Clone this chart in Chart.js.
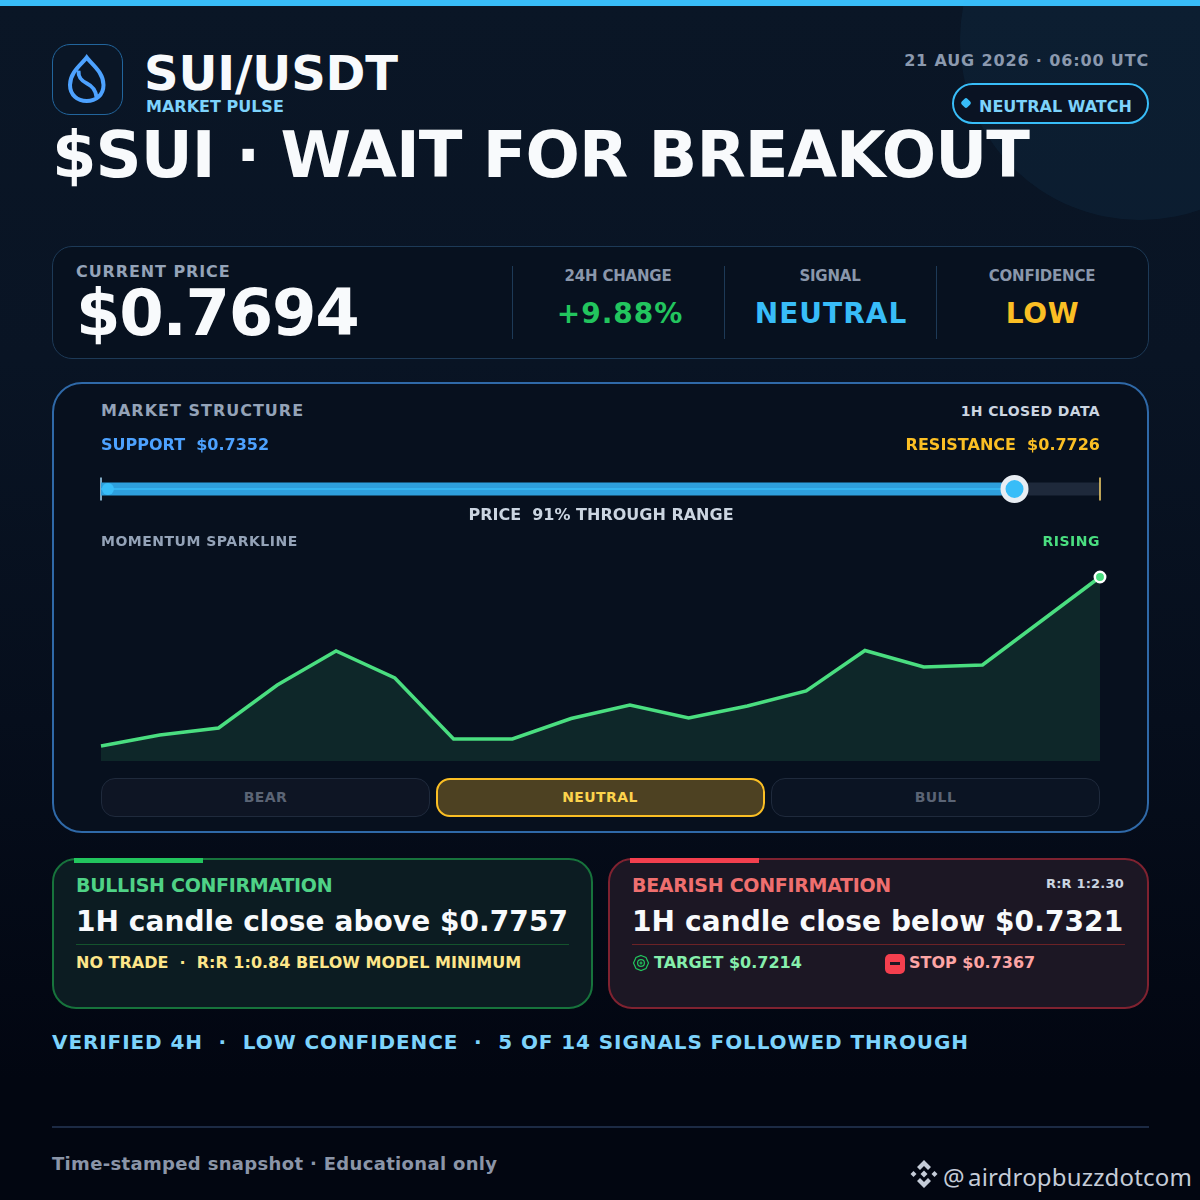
<!DOCTYPE html>
<html>
<head>
<meta charset="utf-8">
<script src="https://cdn.jsdelivr.net/npm/chart.js"></script>
<style>
  html, body { margin: 0; padding: 0; background: #020611; }
  #page {
    position: relative; width: 1200px; height: 1200px; overflow: hidden;
    background: linear-gradient(180deg, #0a1626 0%, #091424 30%, #060e1c 60%, #020611 90%, #020611 100%);
    font-family: "DejaVu Sans", sans-serif; font-weight: bold;
  }
  .box { position: absolute; box-sizing: border-box; }
  .t { position: absolute; white-space: pre; line-height: normal; }
  canvas { position: absolute; }
</style>
</head>
<body>
<div id="page">
  <div class="box" style="left:0;top:0;width:1200px;height:6px;background:#38bdf8"></div>
  <div class="box" style="left:960px;top:-140px;width:360px;height:360px;border-radius:50%;background:rgba(56,189,248,.055)"></div>

  <div class="box" style="left:52px;top:44px;width:71px;height:71px;border-radius:18px;border:1px solid #22659c;background:#0a1626"></div>
  <svg class="box" style="left:0;top:0" width="200" height="130" fill="none" stroke="#4da2ff" stroke-width="4">
    <path d="M86.7 57.5 C82 64 70 72 70 85 C70 95 77.5 101 86.7 101 C96 101 103.5 95 103.5 85 C103.5 72 91.5 64 86.7 57.5 Z"/>
    <path d="M78.5 70.5 C78 78 82 81 87 83.5 C92 86 95.5 89 96.5 97"/>
  </svg>

  <div class="box" style="left:952px;top:83px;width:197px;height:41px;border-radius:21px;border:2px solid #38bdf8;background:#0a1323"></div>
  <div class="box" style="left:962px;top:99px;width:8px;height:8px;background:#38bdf8;transform:rotate(45deg);border-radius:2px"></div>

  <div class="box" style="left:52px;top:246px;width:1097px;height:113px;border-radius:20px;border:1px solid #1d3a57;background:#07111f"></div>
  <div class="box" style="left:512px;top:266px;width:1px;height:73px;background:#1d3a57"></div>
  <div class="box" style="left:724px;top:266px;width:1px;height:73px;background:#1d3a57"></div>
  <div class="box" style="left:936px;top:266px;width:1px;height:73px;background:#1d3a57"></div>

  <div class="box" style="left:52px;top:382px;width:1097px;height:451px;border-radius:30px;border:2px solid #2f69a8;background:#07101e"></div>

  <div class="box" style="left:101px;top:778px;width:329px;height:39px;border-radius:14px;border:1px solid #1f2a3c;background:#0e1524"></div>
  <div class="box" style="left:436px;top:778px;width:329px;height:39px;border-radius:14px;border:2px solid #fbbf24;background:#4d4122"></div>
  <div class="box" style="left:771px;top:778px;width:329px;height:39px;border-radius:14px;border:1px solid #1f2a3c;background:#0b1423"></div>

  <div class="box" style="left:52px;top:858px;width:541px;height:151px;border-radius:24px;border:2px solid #17733c;background:#0c1c22"></div>
  <div class="box" style="left:74px;top:858px;width:129px;height:5px;background:#22c55e"></div>
  <div class="box" style="left:76px;top:944px;width:493px;height:1px;background:#14532d"></div>

  <div class="box" style="left:608px;top:858px;width:541px;height:151px;border-radius:24px;border:2px solid #7f2230;background:#1c1724"></div>
  <div class="box" style="left:630px;top:858px;width:129px;height:5px;background:#f43f4e"></div>
  <div class="box" style="left:632px;top:944px;width:493px;height:1px;background:#6b2226"></div>

  <svg class="box" style="left:629.5px;top:952px" width="22" height="22" fill="none" stroke="#22c55e" stroke-width="1.2">
    <polygon points="11,3.5 16,5.5 18.5,11 16,16.5 11,18.5 6,16.5 3.5,11 6,5.5"/>
    <circle cx="11" cy="11" r="3.4"/>
    <path d="M11 9.5v3M9.5 11h3"/>
  </svg>
  <div class="box" style="left:885px;top:954px;width:20px;height:20px;border-radius:5px;background:#f43f4e"></div>
  <div class="box" style="left:890px;top:962px;width:10px;height:3px;background:#1c1724"></div>

  <div class="box" style="left:52px;top:1126px;width:1097px;height:2px;background:#1c2a44"></div>

  <svg class="box" style="left:909px;top:1159px" width="30" height="30" fill="#c5ccd8">
    <polygon points="15,1 22,8 19,11 15,7 11,11 8,8"/>
    <polygon points="15,29 22,22 19,19 15,23 11,19 8,22"/>
    <polygon points="15,11.5 18.5,15 15,18.5 11.5,15"/>
    <polygon points="4.5,12 7.5,15 4.5,18 1.5,15"/>
    <polygon points="25.5,12 28.5,15 25.5,18 22.5,15"/>
  </svg>

  <canvas id="rangeChart" style="left:81px;top:449px"></canvas>
  <canvas id="sparkChart" style="left:81px;top:541px"></canvas>
</div>

<script>
const pair = "SUI/USDT";
const headline = "$SUI · WAIT FOR BREAKOUT";
const stamp = "21 AUG 2026 · 06:00 UTC";

const support = 0.7352;
const resistance = 0.7726;
const price = 0.7694;
const rangeStartDot = 0.73546;

const statHeads = ["24H CHANGE", "SIGNAL", "CONFIDENCE"];
const statValues = ["+9.88%", "NEUTRAL", "LOW"];
const bias = ["BEAR", "NEUTRAL", "BULL"];

const sparkLabels = ["1","2","3","4","5","6","7","8","9","10","11","12","13","14","15","16","17","18"];
const sparkValues = [7.5, 13, 16.5, 38, 55, 41.5, 11, 11, 21.25, 28, 21.5, 27.5, 35, 55.25, 47, 48, 70, 92];

const page = document.getElementById("page");

// baseline-placed text; DejaVu ascent is .928em
function label(str, x, base, size, color, opts = {}) {
  const el = document.createElement("div");
  el.className = "t";
  el.textContent = str;
  el.style.top = (base - 0.928 * size) + "px";
  el.style.fontSize = size + "px";
  el.style.color = color;
  if (opts.ls) el.style.letterSpacing = opts.ls + "px";
  if (opts.font) { el.style.fontFamily = opts.font; el.style.fontWeight = opts.weight || "normal"; }
  if (opts.align === "right") el.style.right = (1200 - x) + "px";
  else if (opts.align === "center") { el.style.left = x + "px"; el.style.transform = "translateX(-50%)"; }
  else el.style.left = x + "px";
  page.appendChild(el);
}

label(pair, 144, 90, 48, "#f8fafc", { ls: -0.15 });
label("MARKET PULSE", 146, 112, 16, "#7dd3fc");
label(stamp, 1149, 66, 16, "#8b99ae", { align: "right", ls: 0.85 });
label("NEUTRAL WATCH", 979, 112, 16, "#7dd3fc");
label(headline, 52, 177, 64, "#f8fafc", { ls: -0.96 });

label("CURRENT PRICE", 76, 277, 16, "#94a3b8", { ls: 0.9 });
label("$" + price.toFixed(4), 76, 335, 64, "#f8fafc", { ls: -1.28 });
label(statHeads[0], 618, 281, 15, "#8a97ab", { align: "center", ls: -0.2 });
label(statHeads[1], 830, 281, 15, "#8a97ab", { align: "center", ls: -0.2 });
label(statHeads[2], 1042, 281, 15, "#8a97ab", { align: "center", ls: -0.2 });
label(statValues[0], 620, 323, 28, "#22c55e", { align: "center", ls: 1 });
label(statValues[1], 831, 323, 28, "#38bdf8", { align: "center", ls: 1 });
label(statValues[2], 1042.5, 323, 28, "#fbbf24", { align: "center", ls: 0.6 });

label("MARKET STRUCTURE", 101, 416, 16, "#94a3b8", { ls: 1 });
label("1H CLOSED DATA", 1100, 416, 14, "#cbd5e1", { align: "right", ls: 0.4 });
label("SUPPORT  $" + support.toFixed(4), 101, 450, 16, "#4da2ff");
label("RESISTANCE  $" + resistance.toFixed(4), 1100, 450, 16, "#fbbf24", { align: "right" });
label("PRICE  91% THROUGH RANGE", 601, 520, 16, "#cbd5e1", { align: "center" });
label("MOMENTUM SPARKLINE", 101, 546, 14, "#94a3b8", { ls: 0.5 });
label("RISING", 1100, 546, 14, "#4ade80", { align: "right", ls: 0.5 });

label(bias[0], 265.5, 802, 14, "#5b6475", { align: "center", ls: 0.4 });
label(bias[1], 600, 802, 14, "#fcd34d", { align: "center", ls: 0.4 });
label(bias[2], 935.5, 802, 14, "#5b6475", { align: "center", ls: 0.4 });

label("BULLISH CONFIRMATION", 76, 892, 19, "#4fd286", { ls: -0.3 });
label("1H candle close above $0.7757", 76, 931, 28, "#f8fafc", { ls: 0.07 });
label("NO TRADE  ·  R:R 1:0.84 BELOW MODEL MINIMUM", 76, 968, 16, "#fde68a");

label("BEARISH CONFIRMATION", 632, 892, 19, "#ef6f6f", { ls: -0.3 });
label("R:R 1:2.30", 1124, 888, 13, "#cbd5e1", { align: "right", ls: 0.2 });
label("1H candle close below $0.7321", 632, 931, 28, "#f8fafc", { ls: 0.1 });
label("TARGET $0.7214", 654, 968, 16, "#86efac");
label("STOP $0.7367", 909, 968, 16, "#fca5a5");

label("VERIFIED 4H  ·  LOW CONFIDENCE  ·  5 OF 14 SIGNALS FOLLOWED THROUGH", 52, 1049, 20, "#7dd3fc", { ls: 0.9 });
label("Time-stamped snapshot · Educational only", 52, 1170, 18, "#8b95a8", { ls: 0.33 });
label("@", 943, 1182, 24, "#c5ccd8", { font: '"Noto Sans", sans-serif' });
label("airdropbuzzdotcom", 968, 1182, 24, "#c5ccd8", { font: '"Noto Sans", sans-serif', ls: 0.17 });

const hiddenScale = (min, max) => ({ type: "linear", display: false, min, max, grid: { display: false } });
const baseOptions = {
  responsive: false,
  animation: false,
  devicePixelRatio: 1,
  plugins: { legend: { display: false }, tooltip: { enabled: false } },
  events: []
};

function sizeCanvas(id, w, h) {
  const c = document.getElementById(id);
  c.width = w; c.height = h;
  return c;
}

// first dataset sits on top
new Chart(sizeCanvas("rangeChart", 1039, 80), {
  type: "scatter",
  data: {
    datasets: [
      { data: [{ x: price, y: 0 }], clip: false, pointRadius: 11.5, pointBorderWidth: 5, pointBackgroundColor: "#38bdf8", pointBorderColor: "#e8edf3" },
      { data: [{ x: rangeStartDot, y: 0 }], clip: false, pointRadius: 6, pointBorderWidth: 0, pointBackgroundColor: "#38bdf8" },
      { data: [{ x: support, y: 0 }, { x: price, y: 0 }], clip: false, showLine: true, borderColor: "#38bdf8", borderWidth: 1.5, pointRadius: 0 },
      { data: [{ x: support, y: 0 }, { x: price, y: 0 }], clip: false, showLine: true, borderColor: "#2e9fdc", borderWidth: 13, pointRadius: 0 },
      { data: [{ x: support, y: -11.5 }, { x: support, y: 11.5 }], clip: false, showLine: true, borderColor: "#a8daf8", borderWidth: 1.5, pointRadius: 0 },
      { data: [{ x: resistance, y: -11.5 }, { x: resistance, y: 11.5 }], clip: false, showLine: true, borderColor: "#fbd56a", borderWidth: 1.5, pointRadius: 0 },
      { data: [{ x: price, y: 0 }, { x: resistance, y: 0 }], clip: false, showLine: true, borderColor: "#1e293b", borderWidth: 13, pointRadius: 0 }
    ]
  },
  options: {
    ...baseOptions,
    layout: { padding: { left: 20, right: 20, top: 20, bottom: 20 } },
    scales: { x: hiddenScale(support, resistance), y: hiddenScale(-20, 20) }
  }
});

const lastIndex = sparkValues.length - 1;
new Chart(sizeCanvas("sparkChart", 1039, 230), {
  type: "line",
  data: {
    labels: sparkLabels,
    datasets: [{
      data: sparkValues,
      borderColor: "#4ade80",
      borderWidth: 3.5,
      tension: 0,
      fill: "origin",
      backgroundColor: "rgba(74,222,128,.115)",
      clip: false,
      pointRadius: sparkValues.map((v, i) => i === lastIndex ? 5.2 : 0),
      pointBorderWidth: 2.5,
      pointBackgroundColor: "#4ade80",
      pointBorderColor: "#ffffff"
    }]
  },
  options: {
    ...baseOptions,
    layout: { padding: { left: 20, right: 20, top: 20, bottom: 10 } },
    scales: {
      x: { type: "category", display: false, offset: false, grid: { display: false } },
      y: hiddenScale(0, 100)
    }
  }
});
</script>
</body>
</html>
